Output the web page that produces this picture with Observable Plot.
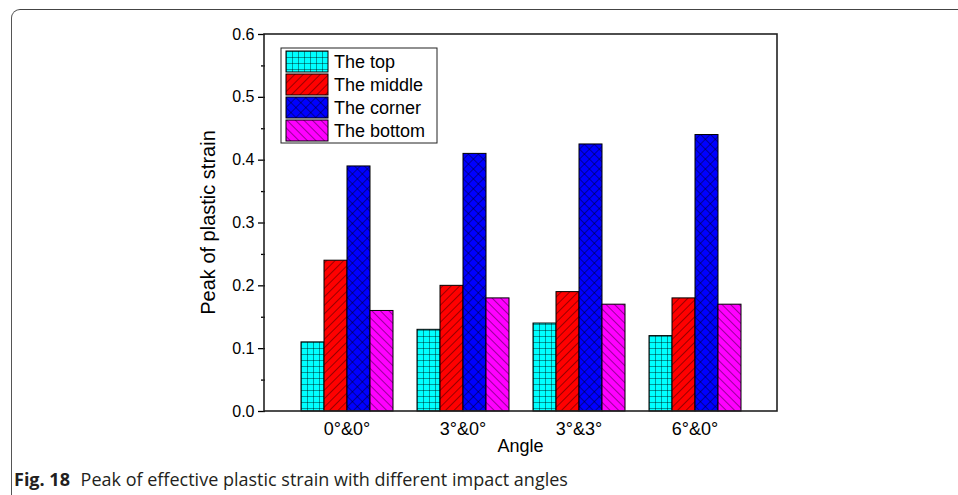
<!DOCTYPE html>
<html>
<head>
<meta charset="utf-8">
<script src="https://cdn.jsdelivr.net/npm/d3@7"></script>
<script src="https://cdn.jsdelivr.net/npm/@observablehq/plot@0.6"></script>
<style>
  html, body { margin: 0; padding: 0; background: #fff; }
  #page { position: relative; width: 958px; height: 495px; overflow: hidden; }
  #card {
    position: absolute; left: 11px; top: 9px; width: 1000px; height: 520px;
    border-left: 1.5px solid #555; border-top: 1.5px solid #444;
    border-top-left-radius: 9px; box-sizing: border-box;
  }
  #chart { position: absolute; left: 0; top: 0; }
  #caption {
    position: absolute; left: 14px; top: 470px; line-height: 1;
    font-family: "Open Sans", sans-serif; font-size: 18px; color: #231f20; white-space: nowrap;
  }
  #caption b { font-weight: 700; margin-right: 6px; }
</style>
</head>
<body>
<div id="page">
  <div id="card"></div>
  <div id="chart"></div>
  <div id="caption"><b>Fig. 18</b> Peak of effective plastic strain with different impact angles</div>
</div>
<script>
// Impact angle groups and measured peaks of plastic strain per location
const angles = ["0°&0°", "3°&0°", "3°&3°", "6°&0°"];
const series = ["The top", "The middle", "The corner", "The bottom"];
const topValues    = [0.11, 0.13, 0.14, 0.12];
const middleValues = [0.24, 0.20, 0.19, 0.18];
const cornerValues = [0.39, 0.41, 0.425, 0.44];
const bottomValues = [0.16, 0.18, 0.17, 0.17];
const yTicks = [0, 0.1, 0.2, 0.3, 0.4, 0.5, 0.6];
const yMinorTicks = [0.05, 0.15, 0.25, 0.35, 0.45, 0.55];

// Fill colours and hatch styles for each location
const baseColors = ["#00ffff", "#ff0000", "#0000ff", "#ff00ff"];
const hatchKinds = ["grid", "slash", "cross", "backslash"];
const patternIds = hatchKinds.map(k => "hatch-" + k);

const valuesBySeries = [topValues, middleValues, cornerValues, bottomValues];
const data = angles.flatMap((angle, i) =>
  series.map((s, j) => ({angle, series: s, value: valuesBySeries[j][i]}))
);

// Empty space between the frame and the outermost bar groups
const outerGap = 35;
const font = "'Liberation Sans', Arial, sans-serif";

const plot = Plot.plot({
  width: 958,
  height: 460,
  marginLeft: 264 + outerGap,
  marginRight: 181 + outerGap,
  marginTop: 34,
  marginBottom: 49,
  style: {fontFamily: font, fontSize: "16px", color: "#000", background: "transparent", overflow: "visible"},
  fx: {domain: angles, paddingInner: 0.194, paddingOuter: 0},
  x: {domain: series, padding: 0, axis: null},
  y: {domain: [0, 0.6]},
  color: {domain: series, range: patternIds.map(id => `url(#${id})`)},
  marks: [
    Plot.barY(data, {fx: "angle", x: "series", y: "value", fill: "series", stroke: "#000", strokeWidth: 1}),
    Plot.axisY(yTicks, {dx: -outerGap, tickSize: 7, tickPadding: 4, tickFormat: d3.format(".1f"),
      fontSize: 16, label: null, strokeWidth: 1.3}),
    Plot.axisY(yMinorTicks, {dx: -outerGap, tickSize: 4, tickFormat: () => "", label: null, strokeWidth: 1.3}),
    Plot.axisFx({anchor: "bottom", tickSize: 0, tickPadding: 11, fontSize: 18, label: null})
  ]
});

document.getElementById("chart").appendChild(plot);

// Hatch pattern definitions
const svg = d3.select(plot);
const defs = svg.insert("defs", ":first-child");
hatchKinds.forEach((kind, i) => {
  const s = kind === "cross" ? 7 : 6;
  const p = defs.append("pattern")
    .attr("id", patternIds[i])
    .attr("patternUnits", "userSpaceOnUse")
    .attr("width", s).attr("height", s);
  if (kind === "slash" || kind === "cross") p.attr("patternTransform", "rotate(45)");
  if (kind === "backslash") p.attr("patternTransform", "rotate(-45)");
  p.append("rect").attr("width", s).attr("height", s).attr("fill", baseColors[i]);
  const line = (x1, y1, x2, y2) => p.append("line")
    .attr("x1", x1).attr("y1", y1).attr("x2", x2).attr("y2", y2)
    .attr("stroke", "#000").attr("stroke-width", 0.8);
  if (kind === "grid" || kind === "cross") { line(0, 0, s, 0); line(0, 0, 0, s); }
  else { line(0, 0, 0, s); }
});

// Plot frame, derived from the scales plus the outer gap
const yRange = plot.scale("y").range;
const fxRange = plot.scale("fx").range;
const frameLeft = fxRange[0] - outerGap, frameRight = fxRange[1] + outerGap;
const frameTop = Math.min(...yRange), frameBottom = Math.max(...yRange);
svg.append("rect")
  .attr("x", frameLeft).attr("y", frameTop)
  .attr("width", frameRight - frameLeft).attr("height", frameBottom - frameTop)
  .attr("fill", "none").attr("stroke", "#222").attr("stroke-width", 1.6);

// Axis titles
svg.append("text")
  .attr("transform", `translate(${frameLeft - 49},${(frameTop + frameBottom) / 2}) rotate(-90)`)
  .attr("text-anchor", "middle")
  .attr("font-family", font).attr("font-size", 20)
  .text("Peak of plastic strain");
svg.append("text")
  .attr("x", (frameLeft + frameRight) / 2).attr("y", frameBottom + 41)
  .attr("text-anchor", "middle")
  .attr("font-family", font).attr("font-size", 18)
  .text("Angle");

// Legend in the upper-left corner of the frame
const lg = svg.append("g").attr("transform", `translate(${frameLeft + 17},${frameTop + 14})`);
lg.append("rect").attr("width", 156).attr("height", 95)
  .attr("fill", "#fff").attr("stroke", "#222").attr("stroke-width", 1);
series.forEach((name, i) => {
  const row = lg.append("g").attr("transform", `translate(5,${3 + i * 23})`);
  row.append("rect").attr("width", 42).attr("height", 21)
    .attr("fill", `url(#${patternIds[i]})`).attr("stroke", "#000").attr("stroke-width", 1);
  row.append("text").attr("x", 48).attr("y", 10.5).attr("dy", "0.36em")
    .attr("text-anchor", "start")
    .attr("font-family", font).attr("font-size", 18)
    .text(name);
});
</script>
</body>
</html>
